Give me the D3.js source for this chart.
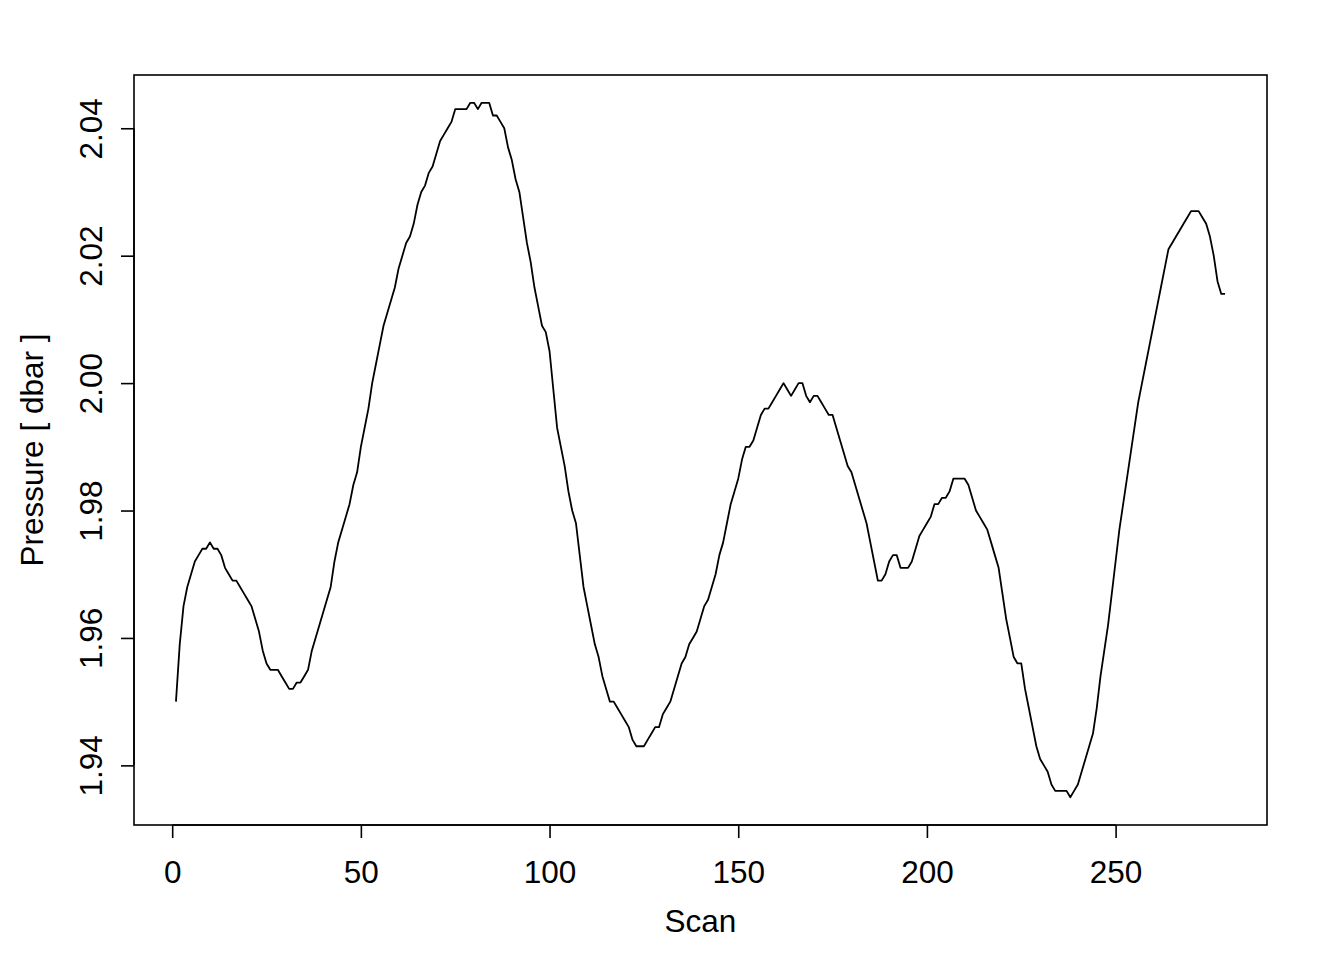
<!DOCTYPE html>
<html>
<head>
<meta charset="utf-8">
<script src="https://cdn.jsdelivr.net/npm/d3@7"></script>
<style>
  html, body { margin: 0; padding: 0; background: #ffffff; }
  svg { display: block; }
  text { font-family: "Liberation Sans", Arial, Helvetica, sans-serif; fill: #000; }
</style>
</head>
<body>
<svg id="chart" width="1344" height="960"></svg>
<script>
// Scan numbers 1..279
const scans = d3.range(1, 280);
// Pressure values [dbar]
const pressure = [
  1.950, 1.959, 1.965, 1.968, 1.970, 1.972, 1.973, 1.974, 1.974, 1.975,
  1.974, 1.974, 1.973, 1.971, 1.970, 1.969, 1.969, 1.968, 1.967, 1.966,
  1.965, 1.963, 1.961, 1.958, 1.956, 1.955, 1.955, 1.955, 1.954, 1.953,
  1.952, 1.952, 1.953, 1.953, 1.954, 1.955, 1.958, 1.960, 1.962, 1.964,
  1.966, 1.968, 1.972, 1.975, 1.977, 1.979, 1.981, 1.984, 1.986, 1.990,
  1.993, 1.996, 2.000, 2.003, 2.006, 2.009, 2.011, 2.013, 2.015, 2.018,
  2.020, 2.022, 2.023, 2.025, 2.028, 2.030, 2.031, 2.033, 2.034, 2.036,
  2.038, 2.039, 2.040, 2.041, 2.043, 2.043, 2.043, 2.043, 2.044, 2.044,
  2.043, 2.044, 2.044, 2.044, 2.042, 2.042, 2.041, 2.040, 2.037, 2.035,
  2.032, 2.030, 2.026, 2.022, 2.019, 2.015, 2.012, 2.009, 2.008, 2.005,
  1.999, 1.993, 1.990, 1.987, 1.983, 1.980, 1.978, 1.973, 1.968, 1.965,
  1.962, 1.959, 1.957, 1.954, 1.952, 1.950, 1.950, 1.949, 1.948, 1.947,
  1.946, 1.944, 1.943, 1.943, 1.943, 1.944, 1.945, 1.946, 1.946, 1.948,
  1.949, 1.950, 1.952, 1.954, 1.956, 1.957, 1.959, 1.960, 1.961, 1.963,
  1.965, 1.966, 1.968, 1.970, 1.973, 1.975, 1.978, 1.981, 1.983, 1.985,
  1.988, 1.990, 1.990, 1.991, 1.993, 1.995, 1.996, 1.996, 1.997, 1.998,
  1.999, 2.000, 1.999, 1.998, 1.999, 2.000, 2.000, 1.998, 1.997, 1.998,
  1.998, 1.997, 1.996, 1.995, 1.995, 1.993, 1.991, 1.989, 1.987, 1.986,
  1.984, 1.982, 1.980, 1.978, 1.975, 1.972, 1.969, 1.969, 1.970, 1.972,
  1.973, 1.973, 1.971, 1.971, 1.971, 1.972, 1.974, 1.976, 1.977, 1.978,
  1.979, 1.981, 1.981, 1.982, 1.982, 1.983, 1.985, 1.985, 1.985, 1.985,
  1.984, 1.982, 1.980, 1.979, 1.978, 1.977, 1.975, 1.973, 1.971, 1.967,
  1.963, 1.960, 1.957, 1.956, 1.956, 1.952, 1.949, 1.946, 1.943, 1.941,
  1.940, 1.939, 1.937, 1.936, 1.936, 1.936, 1.936, 1.935, 1.936, 1.937,
  1.939, 1.941, 1.943, 1.945, 1.949, 1.954, 1.958, 1.962, 1.967, 1.972,
  1.977, 1.981, 1.985, 1.989, 1.993, 1.997, 2.000, 2.003, 2.006, 2.009,
  2.012, 2.015, 2.018, 2.021, 2.022, 2.023, 2.024, 2.025, 2.026, 2.027,
  2.027, 2.027, 2.026, 2.025, 2.023, 2.020, 2.016, 2.014, 2.014
];
const xTicks = [0, 50, 100, 150, 200, 250];
const yTicks = [1.94, 1.96, 1.98, 2.00, 2.02, 2.04];
const xTitle = "Scan";
const yTitle = "Pressure [ dbar ]";

const data = scans.map((s, i) => ({ scan: s, p: pressure[i] }));

const box = { left: 134, right: 1267, top: 75, bottom: 825 };
const fontSize = 31.5;

// R-style 4% axis extension
function rExtent(vals) {
  const [a, b] = d3.extent(vals);
  const d = (b - a) * 0.04;
  return [a - d, b + d];
}

const x = d3.scaleLinear().domain(rExtent(scans)).range([box.left, box.right]);
const y = d3.scaleLinear().domain(rExtent(pressure)).range([box.bottom, box.top]);

const svg = d3.select("#chart");

// Plot box
svg.append("rect")
  .attr("x", box.left).attr("y", box.top)
  .attr("width", box.right - box.left).attr("height", box.bottom - box.top)
  .attr("fill", "none").attr("stroke", "#000").attr("stroke-width", 1.6);

// X axis
const xAxis = d3.axisBottom(x).tickValues(xTicks).tickSize(13).tickPadding(23)
  .tickFormat(d3.format("d"));
const gx = svg.append("g").attr("transform", `translate(0,${box.bottom})`).call(xAxis);
gx.select(".domain").attr("d", `M${x(xTicks[0])},0H${x(xTicks[xTicks.length - 1])}`)
  .attr("stroke-width", 1.6);
gx.selectAll(".tick line").attr("stroke-width", 1.6);
gx.selectAll(".tick text").attr("font-size", fontSize)
  .attr("font-family", "Liberation Sans, Arial, sans-serif").attr("fill", "#000");

// Y axis
const yAxis = d3.axisLeft(y).tickValues(yTicks).tickSize(13).tickFormat(d3.format(".2f"));
const gy = svg.append("g").attr("transform", `translate(${box.left},0)`).call(yAxis);
gy.select(".domain").attr("d", `M0,${y(yTicks[0])}V${y(yTicks[yTicks.length - 1])}`)
  .attr("stroke-width", 1.6);
gy.selectAll(".tick line").attr("stroke-width", 1.6);
gy.selectAll(".tick text")
  .attr("font-size", fontSize)
  .attr("font-family", "Liberation Sans, Arial, sans-serif").attr("fill", "#000")
  .attr("x", null).attr("dy", null)
  .attr("text-anchor", "middle")
  .attr("transform", "translate(-32,0) rotate(-90)");

// Titles
svg.append("text")
  .attr("x", (box.left + box.right) / 2).attr("y", 932)
  .attr("text-anchor", "middle").attr("font-size", fontSize)
  .text(xTitle);
svg.append("text")
  .attr("transform", `translate(43,${(box.top + box.bottom) / 2}) rotate(-90)`)
  .attr("text-anchor", "middle").attr("font-size", fontSize)
  .text(yTitle);

// Line
const line = d3.line().x(d => x(d.scan)).y(d => y(d.p));
svg.append("path")
  .datum(data)
  .attr("d", line)
  .attr("fill", "none")
  .attr("stroke", "#000")
  .attr("stroke-width", 1.8)
  .attr("stroke-linejoin", "round");
</script>
</body>
</html>
